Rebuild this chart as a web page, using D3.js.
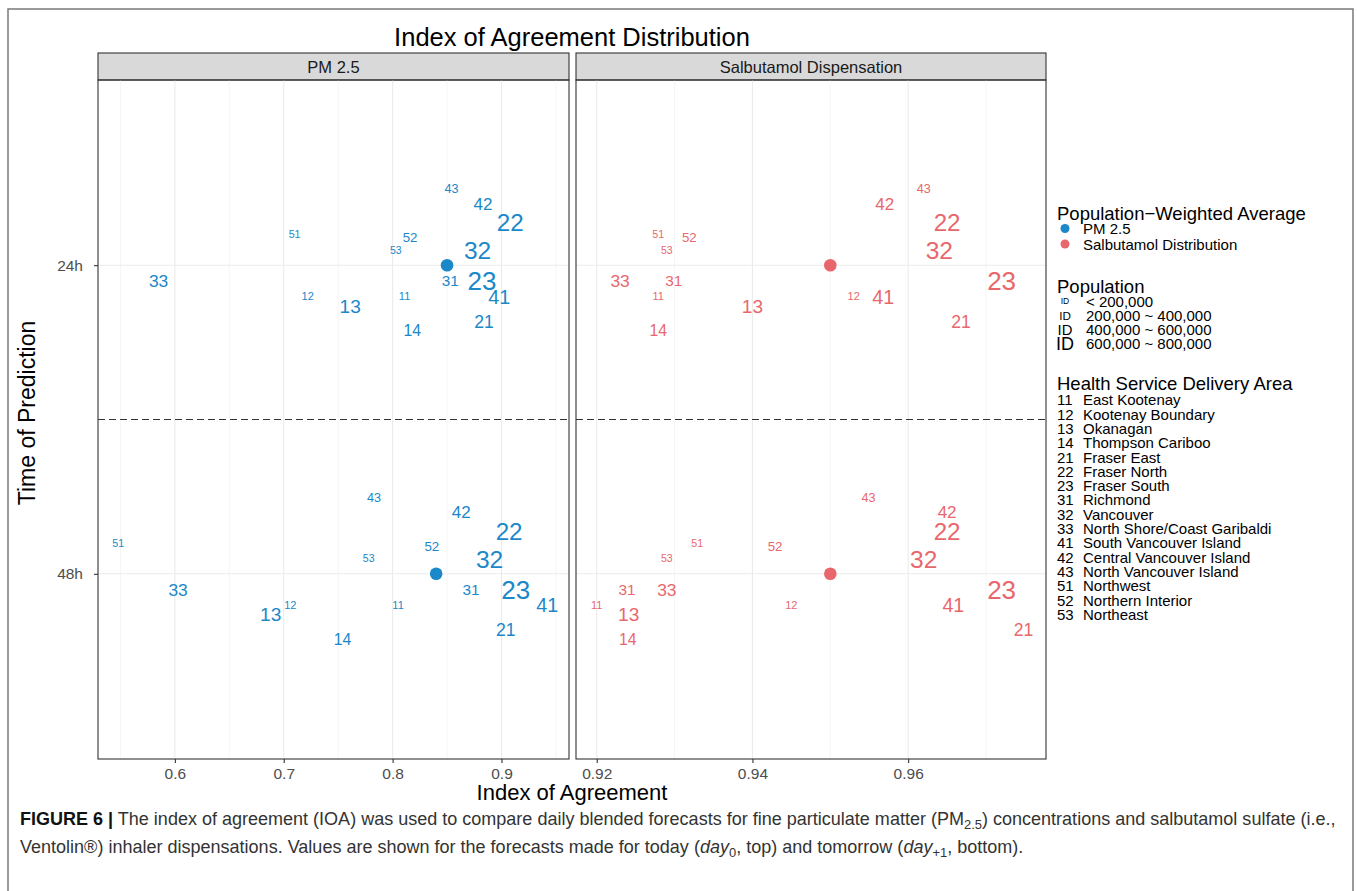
<!DOCTYPE html>
<html>
<head>
<meta charset="utf-8">
<script src="https://cdn.jsdelivr.net/npm/d3@7"></script>
<style>
  body { margin: 0; background: #fff; }
  svg text { font-family: "Liberation Sans", Arial, Helvetica, sans-serif; }
</style>
</head>
<body>
<svg width="1357" height="891"></svg>
<script>
// ---- data ----
var regions = ["11", "12", "13", "14", "21", "22", "23", "31", "32", "33", "41", "42", "43", "51", "52", "53"];
var regionNames = ["East Kootenay", "Kootenay Boundary", "Okanagan", "Thompson Cariboo", "Fraser East",
  "Fraser North", "Fraser South", "Richmond", "Vancouver", "North Shore/Coast Garibaldi",
  "South Vancouver Island", "Central Vancouver Island", "North Vancouver Island", "Northwest",
  "Northern Interior", "Northeast"];
var population = [82000, 81000, 370000, 225000, 300000, 660000, 780000, 210000, 680000, 290000,
  400000, 275000, 122000, 74000, 142000, 70000];
// label offset from its prediction row (row units)
var rowOffset = [0.1, 0.1, 0.132, 0.212, 0.182, -0.138, 0.051, 0.051, -0.049, 0.051,
  0.102, -0.2, -0.248, -0.099, -0.09, -0.049];

var horizons = ["24h", "48h"];
var pm24 = [0.811, 0.722, 0.761, 0.818, 0.884, 0.908, 0.882, 0.853, 0.878, 0.585, 0.898, 0.883, 0.854, 0.710, 0.816, 0.803];
var pm48 = [0.805, 0.706, 0.688, 0.754, 0.904, 0.907, 0.913, 0.872, 0.889, 0.603, 0.942, 0.863, 0.783, 0.548, 0.836, 0.778];
var sal24 = [0.9279, 0.953, 0.940, 0.9279, 0.9668, 0.965, 0.972, 0.9299, 0.964, 0.923, 0.9568, 0.957, 0.962, 0.9279, 0.9319, 0.929];
var sal48 = [0.920, 0.945, 0.9241, 0.924, 0.9748, 0.965, 0.972, 0.9239, 0.962, 0.929, 0.9658, 0.965, 0.9549, 0.9329, 0.9429, 0.929];
var pmAvg = [0.850, 0.840];
var salAvg = [0.950, 0.950];

var pmTicks = [0.6, 0.7, 0.8, 0.9];
var salTicks = [0.92, 0.94, 0.96];

var avgLabels = ["PM 2.5", "Salbutamol Distribution"];
var popLabels = ["< 200,000", "200,000 ~ 400,000", "400,000 ~ 600,000", "600,000 ~ 800,000"];

var blue = "#1a88c9", red = "#e8676d";

// ---- layout ----
var svg = d3.select("svg");
var plotTop = 80, plotBottom = 759;
var yscale = d3.scaleLinear().domain([0.4, 2.6]).range([plotTop, plotBottom]);
var fontScale = d3.scaleSqrt().domain(d3.extent(population)).range([10.5, 26]);

var panels = [
  { title: "PM 2.5", x0: 98, x1: 569, domain: [0.5294, 0.962], ticks: pmTicks, values: [pm24, pm48], avg: pmAvg, color: blue, fmt: d3.format(".1f") },
  { title: "Salbutamol Dispensation", x0: 576, x1: 1046, domain: [0.91734, 0.9777], ticks: salTicks, values: [sal24, sal48], avg: salAvg, color: red, fmt: d3.format(".2f") }
];

// outer frame
svg.append("path")
  .attr("d", "M8,891V9H1353V891")
  .attr("fill", "none").attr("stroke", "#7a7a7a").attr("stroke-width", 1.5);

svg.append("text")
  .attr("x", 572).attr("y", 46)
  .attr("text-anchor", "middle")
  .style("font-size", "25.5px")
  .text("Index of Agreement Distribution");

panels.forEach(function (p) {
  var xscale = d3.scaleLinear().domain(p.domain).range([p.x0, p.x1]);
  var step = p.ticks[1] - p.ticks[0];
  var minor = [p.ticks[0] - step / 2].concat(p.ticks.map(function (t) { return t + step / 2; }))
    .filter(function (t) { return t > p.domain[0] && t < p.domain[1]; });

  var g = svg.append("g");

  // strip
  g.append("rect")
    .attr("x", p.x0).attr("y", 53).attr("width", p.x1 - p.x0).attr("height", plotTop - 53)
    .attr("fill", "#d9d9d9").attr("stroke", "#333").attr("stroke-width", 1.1);
  g.append("text")
    .attr("x", (p.x0 + p.x1) / 2).attr("y", 72.5)
    .attr("text-anchor", "middle")
    .style("font-size", "16.5px").attr("fill", "#1a1a1a")
    .text(p.title);

  // grid
  g.selectAll(".minor").data(minor).enter().append("line")
    .attr("x1", function (d) { return xscale(d); }).attr("x2", function (d) { return xscale(d); })
    .attr("y1", plotTop).attr("y2", plotBottom)
    .attr("stroke", "#f2f2f2").attr("stroke-width", 0.8);
  g.selectAll(".major").data(p.ticks).enter().append("line")
    .attr("x1", function (d) { return xscale(d); }).attr("x2", function (d) { return xscale(d); })
    .attr("y1", plotTop).attr("y2", plotBottom)
    .attr("stroke", "#ebebeb").attr("stroke-width", 1.1);
  g.selectAll(".hgrid").data(horizons).enter().append("line")
    .attr("x1", p.x0).attr("x2", p.x1)
    .attr("y1", function (d, i) { return yscale(i + 1); }).attr("y2", function (d, i) { return yscale(i + 1); })
    .attr("stroke", "#ebebeb").attr("stroke-width", 1.1);

  // divider between 24h and 48h
  g.append("line")
    .attr("x1", p.x0).attr("x2", p.x1)
    .attr("y1", yscale(1.5)).attr("y2", yscale(1.5))
    .attr("stroke", "#333").attr("stroke-width", 1.2).attr("stroke-dasharray", "7,4");

  // labels
  p.values.forEach(function (vals, row) {
    g.selectAll(".lab" + row).data(regions).enter().append("text")
      .attr("x", function (d, i) { return xscale(vals[i]); })
      .attr("y", function (d, i) { return yscale(row + 1 + rowOffset[i]); })
      .attr("dy", "0.36em")
      .attr("text-anchor", "middle")
      .attr("fill", p.color)
      .style("font-size", function (d, i) { return fontScale(population[i]) + "px"; })
      .text(function (d) { return d; });
  });

  // population-weighted averages
  g.selectAll(".avg").data(p.avg).enter().append("circle")
    .attr("cx", function (d) { return xscale(d); })
    .attr("cy", function (d, i) { return yscale(i + 1); })
    .attr("r", 6.3)
    .attr("fill", p.color);

  // border
  g.append("rect")
    .attr("x", p.x0).attr("y", plotTop).attr("width", p.x1 - p.x0).attr("height", plotBottom - plotTop)
    .attr("fill", "none").attr("stroke", "#333").attr("stroke-width", 1.1);

  // x axis
  var ax = g.append("g")
    .attr("transform", "translate(0," + plotBottom + ")")
    .call(d3.axisBottom(xscale).tickValues(p.ticks).tickFormat(p.fmt).tickSize(4).tickPadding(5));
  ax.select(".domain").remove();
  ax.selectAll("line").attr("stroke", "#333").attr("stroke-width", 1.1);
  ax.selectAll("text").attr("fill", "#4d4d4d").style("font-size", "15.5px")
    .style("font-family", "'Liberation Sans', Arial, sans-serif");
});

// y axis
var yax = svg.append("g")
  .attr("transform", "translate(98,0)")
  .call(d3.axisLeft(d3.scaleOrdinal().domain(horizons).range([yscale(1), yscale(2)]))
    .tickSize(4).tickPadding(11));
yax.select(".domain").remove();
yax.selectAll("line").attr("stroke", "#333").attr("stroke-width", 1.1);
yax.selectAll("text").attr("fill", "#4d4d4d").style("font-size", "15.5px")
  .style("font-family", "'Liberation Sans', Arial, sans-serif");

svg.append("text")
  .attr("transform", "translate(35,413) rotate(-90)")
  .attr("text-anchor", "middle")
  .style("font-size", "23px")
  .text("Time of Prediction");
svg.append("text")
  .attr("x", 572).attr("y", 800)
  .attr("text-anchor", "middle")
  .style("font-size", "22px")
  .text("Index of Agreement");

// ---- legends ----
var lg = svg.append("g").attr("transform", "translate(1057,0)");
lg.append("text").attr("x", 0).attr("y", 220).style("font-size", "18.5px").text("Population\u2212Weighted Average");
lg.selectAll(".avgkey").data(avgLabels).enter().append("circle")
  .attr("cx", 8).attr("cy", function (d, i) { return 228.5 + i * 15.5; })
  .attr("r", 4.5)
  .attr("fill", function (d, i) { return i === 0 ? blue : red; });
lg.selectAll(".avglab").data(avgLabels).enter().append("text")
  .attr("x", 26).attr("y", function (d, i) { return 234 + i * 15.5; })
  .style("font-size", "15px")
  .text(function (d) { return d; });

lg.append("text").attr("x", 0).attr("y", 293).style("font-size", "18.5px").text("Population");
var keySize = d3.scaleLinear().domain([0, popLabels.length - 1]).range([8.5, 18]);
lg.selectAll(".popkey").data(popLabels).enter().append("text")
  .attr("x", 8).attr("y", function (d, i) { return 301 + i * 14.3; })
  .attr("dy", "0.36em")
  .attr("text-anchor", "middle")
  .style("font-size", function (d, i) { return keySize(i) + "px"; })
  .text("ID");
lg.selectAll(".poplab").data(popLabels).enter().append("text")
  .attr("x", 29).attr("y", function (d, i) { return 306.5 + i * 14.3; })
  .style("font-size", "15px")
  .text(function (d) { return d; });

lg.append("text").attr("x", 0).attr("y", 390).style("font-size", "18.5px").text("Health Service Delivery Area");
lg.selectAll(".hsda").data(regions).enter().append("text")
  .attr("x", 0).attr("y", function (d, i) { return 405.3 + i * 14.3; })
  .style("font-size", "15px")
  .text(function (d) { return d; });
lg.selectAll(".hsdaname").data(regionNames).enter().append("text")
  .attr("x", 26).attr("y", function (d, i) { return 405.3 + i * 14.3; })
  .style("font-size", "15px")
  .text(function (d) { return d; });

// ---- caption ----
function captionLine(y, parts) {
  var t = svg.append("text").attr("x", 20).attr("y", y).attr("fill", "#333");
  parts.forEach(function (pt) {
    var s = t.append("tspan").text(pt.t);
    if (pt.b) s.style("font-weight", "bold").attr("fill", "#111");
    if (pt.i) s.style("font-style", "italic");
    if (pt.sub) s.attr("dy", 4).style("font-size", "0.72em");
    if (pt.up) s.attr("dy", -4);
  });
  return t;
}
var line1 = captionLine(825, [
  { t: "FIGURE 6 |", b: true },
  { t: " The index of agreement (IOA) was used to compare daily blended forecasts for fine particulate matter (PM" },
  { t: "2.5", sub: true },
  { t: ") concentrations and salbutamol sulfate (i.e.,", up: true }
]);
var line2 = captionLine(853, [
  { t: "Ventolin\u00ae) inhaler dispensations. Values are shown for the forecasts made for today (" },
  { t: "day", i: true },
  { t: "0", sub: true },
  { t: ", top) and tomorrow (", up: true },
  { t: "day", i: true },
  { t: "+1", sub: true },
  { t: ", bottom).", up: true }
]);
line1.style("font-size", "16px");
line2.style("font-size", "16px");
var capSize = 16 * 1317 / line1.node().getComputedTextLength();
line1.style("font-size", capSize + "px");
line2.style("font-size", capSize + "px");
</script>
</body>
</html>
